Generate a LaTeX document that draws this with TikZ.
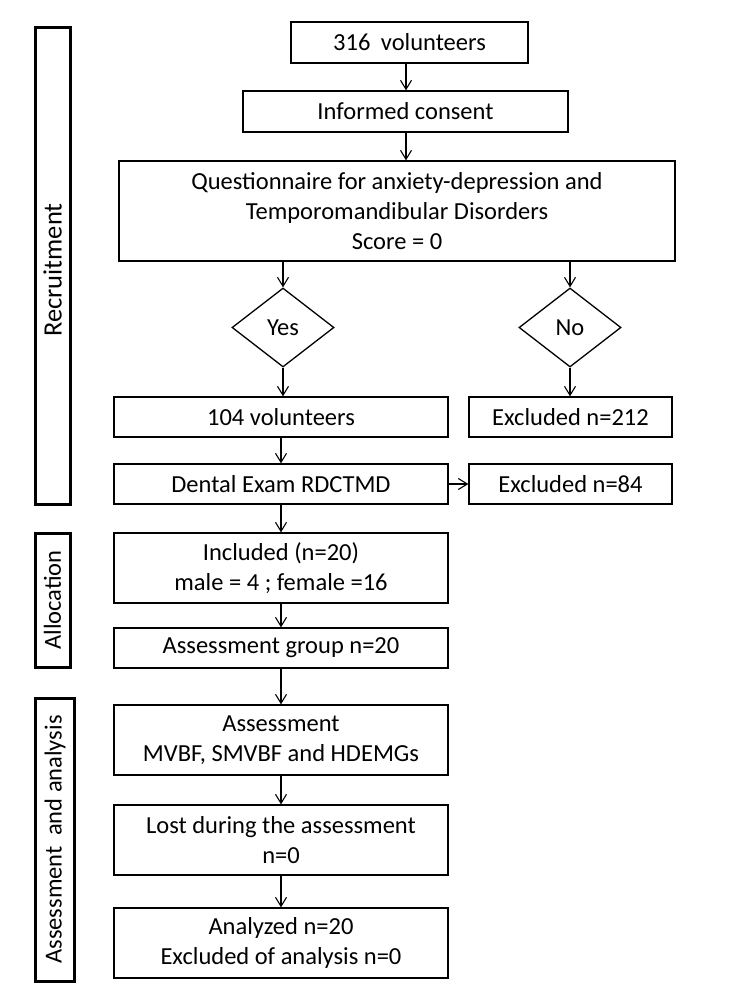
\documentclass[tikz,border=0pt]{standalone}
\usepackage{fontspec}
\setmainfont{Carlito}
\usetikzlibrary{shapes.geometric,arrows.meta}
\begin{document}
\begin{tikzpicture}[x=1pt,y=-1pt,
  every node/.style={font=\fontsize{24.5}{30}\selectfont, text=black},
  box/.style={draw=black, line width=1.3pt, rectangle, inner sep=0pt, align=center},
  dia/.style={draw=black, line width=1.3pt, diamond, inner sep=0pt, minimum width=102, minimum height=79},
  phase/.style={draw=black, line width=3pt, rectangle, inner sep=0pt, minimum width=35},
  arr/.style={draw=black, line width=1.1pt, -{Straight Barb[length=9pt,width=11pt,line width=1.1pt]}}
]
\useasboundingbox (0,0) rectangle (750,1000);

% phase labels
\node[phase, minimum height=476] (rec) at (52.5,266) {};
\node[rotate=90, font=\fontsize{26.5}{30}\selectfont] (rect) at (52.5,270) {Recruitment};
\node[phase, minimum height=134] (alo) at (52.5,600) {};
\node[rotate=90] (alot) at (alo.center) {Allocation};
\node[phase, minimum width=39, minimum height=283] (aa) at (55,839.5) {};
\node[rotate=90] (aat) at (aa.center) {Assessment\hspace{0.2em} and analysis};

% main flow
\node[box, minimum width=237, minimum height=41] (b316) at (409.5,42.5) {316\hspace{0.2em} volunteers};
\node[box, minimum width=325, minimum height=41] (cons) at (405.5,111.5) {Informed consent};
\node[box, minimum width=556, minimum height=100] (quest) at (397,211)
  {Questionnaire for anxiety-depression and\\Temporomandibular Disorders\\Score = 0};
\node[dia] (yes) at (283,327.5) {Yes};
\node[dia] (no) at (570,327.5) {No};
\node[box, minimum width=334, minimum height=40] (v104) at (281,417) {104 volunteers};
\node[box, minimum width=203, minimum height=40] (ex212) at (570.5,417) {Excluded n=212};
\node[box, minimum width=334, minimum height=40] (dent) at (281,484) {Dental Exam RDCTMD};
\node[box, minimum width=203, minimum height=40] (ex84) at (570.5,484) {Excluded n=84};
\node[box, minimum width=334, minimum height=70] (incl) at (281,568) {Included (n=20)\\male = 4 ; female =16};
\node[box, minimum width=334, minimum height=40] (ag) at (281,648) {Assessment group n=20};
\node[box, minimum width=334, minimum height=70] (ass) at (281,740) {Assessment\\MVBF, SMVBF and HDEMGs};
\node[box, minimum width=334, minimum height=70] (lost) at (281,840) {Lost during the assessment\\n=0};
\node[box, minimum width=334, minimum height=70] (anal) at (281,943) {Analyzed n=20\\Excluded of analysis n=0};

% connectors
\coordinate (c1) at (406,0);
\draw[arr] (b316.south -| c1) -- (cons.north -| c1);
\draw[arr] (cons.south -| c1) -- (quest.north -| c1);
\draw[arr] (quest.south -| yes.north) -- (yes.north);
\draw[arr] (quest.south -| no.north) -- (no.north);
\draw[arr] (yes.south) -- (yes.south |- v104.north);
\draw[arr] (no.south) -- (no.south |- ex212.north);
\draw[arr] (v104.south) -- (dent.north);
\draw[arr] (dent.east) -- (ex84.west);
\draw[arr] (dent.south) -- (incl.north);
\draw[arr] (incl.south) -- (ag.north);
\draw[arr] (ag.south) -- (ass.north);
\draw[arr] (ass.south) -- (lost.north);
\draw[arr] (lost.south) -- (anal.north);
\end{tikzpicture}
\end{document}
